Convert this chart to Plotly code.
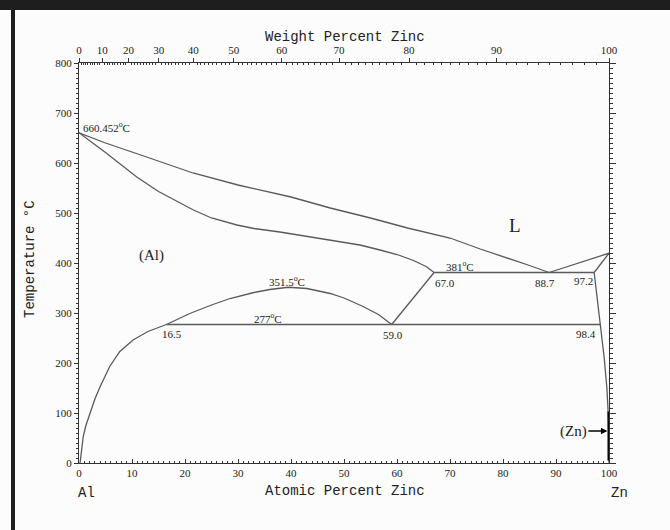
import plotly.graph_objects as go

# ---------------- data (atomic percent Zn, temperature in C) ----------------
liq_x = [0, 5, 10, 15, 21.5, 30, 40, 47.4, 55, 62, 70, 75.7, 80, 85, 88.7]
liq_T = [660.452, 640, 622, 604, 580, 556, 532, 510, 490, 470, 450, 428, 413, 395, 381]

liqZn_x = [88.7, 100]
liqZn_T = [381, 419.58]

sol_x = [0, 5, 10.9, 15, 21.6, 25, 29.8, 33, 37.9, 42, 47.4, 53, 56.8, 60, 63.1, 65.5, 67.0]
sol_T = [660.452, 621, 572, 543, 506, 490, 476, 469, 462, 455, 446, 436, 426, 417, 405, 393, 381]

solv_x = [0.2, 0.45, 0.8, 1.3, 2.1, 3.0, 4.0, 5.8, 7.7, 10.2, 13.0, 16.5]
solv_T = [0, 25, 53, 75, 99, 128, 153, 193, 223, 246, 263, 277]

dome_x = [16.5, 20.9, 25, 28.5, 33, 36, 39.5, 43, 47.4, 50, 53.6, 56.5, 59.0]
dome_T = [277, 299, 316, 329, 341, 347, 351.5, 349, 339, 330, 313, 297, 277]

alp_x = [59.0, 67.0]
alp_T = [277, 381]

eut_x = [67.0, 97.2]
eut_T = [381, 381]

mon_x = [16.5, 98.4]
mon_T = [277, 277]

znsol_x = [97.2, 100]
znsol_T = [381, 419.58]

znsolv_x = [97.2, 98.4, 99.1, 99.6, 99.85, 99.95, 100]
znsolv_T = [381, 277, 210, 150, 100, 50, 0]

zn_bar_x = [100, 100]
zn_bar_T = [5, 103]

atomic_ticks = list(range(0, 101, 10))
weight_ticks = [0, 10, 20, 30, 40, 50, 60, 70, 80, 90, 100]
temp_ticks = list(range(0, 801, 100))

M_AL, M_ZN = 26.9815, 65.38


def wt_to_at(w):
    if w <= 0:
        return 0.0
    if w >= 100:
        return 100.0
    nz = w / M_ZN
    na = (100 - w) / M_AL
    return 100 * nz / (nz + na)


top_tickvals = [wt_to_at(w) for w in weight_ticks]
top_minor = [wt_to_at(w) for w in range(1, 100) if w % 10 != 0]

LC = "#5a5a5a"
LW = 1.3
fig = go.Figure()
for xs, ys in [(liq_x, liq_T), (liqZn_x, liqZn_T), (sol_x, sol_T), (solv_x, solv_T),
               (dome_x, dome_T), (alp_x, alp_T), (eut_x, eut_T), (mon_x, mon_T),
               (znsol_x, znsol_T), (znsolv_x, znsolv_T)]:
    fig.add_trace(go.Scatter(x=xs, y=ys, mode="lines",
                             line=dict(color=LC, width=LW), showlegend=False,
                             hoverinfo="skip", cliponaxis=False))
fig.add_trace(go.Scatter(x=zn_bar_x, y=zn_bar_T, mode="lines",
                         line=dict(color="#000", width=3), showlegend=False,
                         hoverinfo="skip", cliponaxis=False))
# invisible trace to activate the top/right axes
fig.add_trace(go.Scatter(x=[0, 100], y=[0, 800], xaxis="x2", yaxis="y2",
                         mode="markers", marker=dict(opacity=0), showlegend=False,
                         hoverinfo="skip"))

AXC = "#333333"
TF = dict(family="Liberation Serif", size=11, color="#222")
fig.update_layout(
    width=670, height=530,
    margin=dict(l=79, r=61, t=63, b=67),
    paper_bgcolor="#fbfcfb", plot_bgcolor="#fbfcfb",
    xaxis=dict(range=[0, 100], tickmode="array", tickvals=atomic_ticks,
               ticks="inside", ticklen=4, tickcolor=AXC, showline=True,
               linecolor=AXC, linewidth=1, showgrid=False, zeroline=False,
               minor=dict(ticks="inside", ticklen=2, dtick=1, tickcolor=AXC),
               tickfont=TF, anchor="y"),
    xaxis2=dict(range=[0, 100], overlaying="x", side="top", tickmode="array",
                tickvals=top_tickvals, ticktext=[str(w) for w in weight_ticks],
                ticks="outside", ticklen=4, tickcolor=AXC, showline=True,
                linecolor=AXC, linewidth=1, showgrid=False, zeroline=False,
                minor=dict(ticks="inside", ticklen=2, tickmode="array",
                           tickvals=top_minor, tickcolor=AXC),
                tickfont=TF, anchor="y"),
    yaxis=dict(range=[0, 800], tickmode="array", tickvals=temp_ticks,
               ticks="outside", ticklen=4, tickcolor=AXC, showline=True,
               linecolor=AXC, linewidth=1, showgrid=False, zeroline=False,
               minor=dict(ticks="outside", ticklen=2, dtick=10, tickcolor=AXC),
               tickfont=TF, anchor="x"),
    yaxis2=dict(range=[0, 800], overlaying="y", side="right", tickmode="array",
                tickvals=temp_ticks, ticks="outside", ticklen=6, tickcolor=AXC,
                showline=True, linecolor=AXC, linewidth=1, showgrid=False,
                zeroline=False, showticklabels=False,
                minor=dict(ticks="outside", ticklen=3, dtick=10, tickcolor=AXC),
                anchor="x"),
)

MONO = dict(family="Liberation Mono", size=14, color="#222")
SER = "Liberation Serif"


def pann(text, x, y, font, **kw):
    fig.add_annotation(text=text, x=x, y=y, xref="paper", yref="paper",
                       showarrow=False, font=font, xanchor="center",
                       yanchor="middle", **kw)


pann("Weight Percent Zinc", 0.502, 1.065, MONO)
pann("Atomic Percent Zinc", 0.502, -0.07, MONO)
pann("Temperature °C", -0.0925, 0.51, MONO, textangle=-90)
pann("Al", 0.015, -0.075, MONO)
pann("Zn", 1.02, -0.075, MONO)


def dann(text, x, y, size=11, xanchor="center"):
    fig.add_annotation(text=text, x=x, y=y, xref="x", yref="y", showarrow=False,
                       xanchor=xanchor, yanchor="middle",
                       font=dict(family=SER, size=size, color="#222"))


dann("660.452<sup>o</sup>C", 0.4, 672, xanchor="left")
dann("419.58<sup>o</sup>C", 101.5, 418, xanchor="left")
dann("L", 82.3, 476, size=19)
dann("(Al)", 13.7, 416, size=15)
dann("351.5<sup>o</sup>C", 39.2, 364)
dann("277<sup>o</sup>C", 35.7, 290)
dann("16.5", 17.5, 258)
dann("381<sup>o</sup>C", 71.9, 395)
dann("67.0", 69.1, 361)
dann("88.7", 87.9, 361)
dann("59.0", 59.3, 257)
dann("97.2", 95.1, 364)
dann("98.4", 95.7, 259)

fig.add_annotation(text="(Zn)", x=99.7, y=64, xref="x", yref="y", ax=-34, ay=0,
                   showarrow=True, arrowhead=2, arrowsize=1, arrowwidth=1.3,
                   arrowcolor="#000", font=dict(family=SER, size=15, color="#222"))

# page frame (dark border at top and left)
fig.add_shape(type="rect", xref="paper", yref="paper", x0=-0.16, x1=1.13,
              y0=(463 - 10) / 400, y1=(463 + 2) / 400, fillcolor="#1e1e1e",
              line=dict(width=0), layer="above")
fig.add_shape(type="rect", xref="paper", yref="paper", x0=(11 - 79) / 530,
              x1=(15 - 79) / 530, y0=(463 - 540) / 400, y1=(463 + 2) / 400,
              fillcolor="#1e1e1e", line=dict(width=0), layer="above")

fig.write_html("out.html", config={"displayModeBar": False},
               post_script="document.body.style.margin='0';"
                           "document.body.style.overflow='hidden';")
